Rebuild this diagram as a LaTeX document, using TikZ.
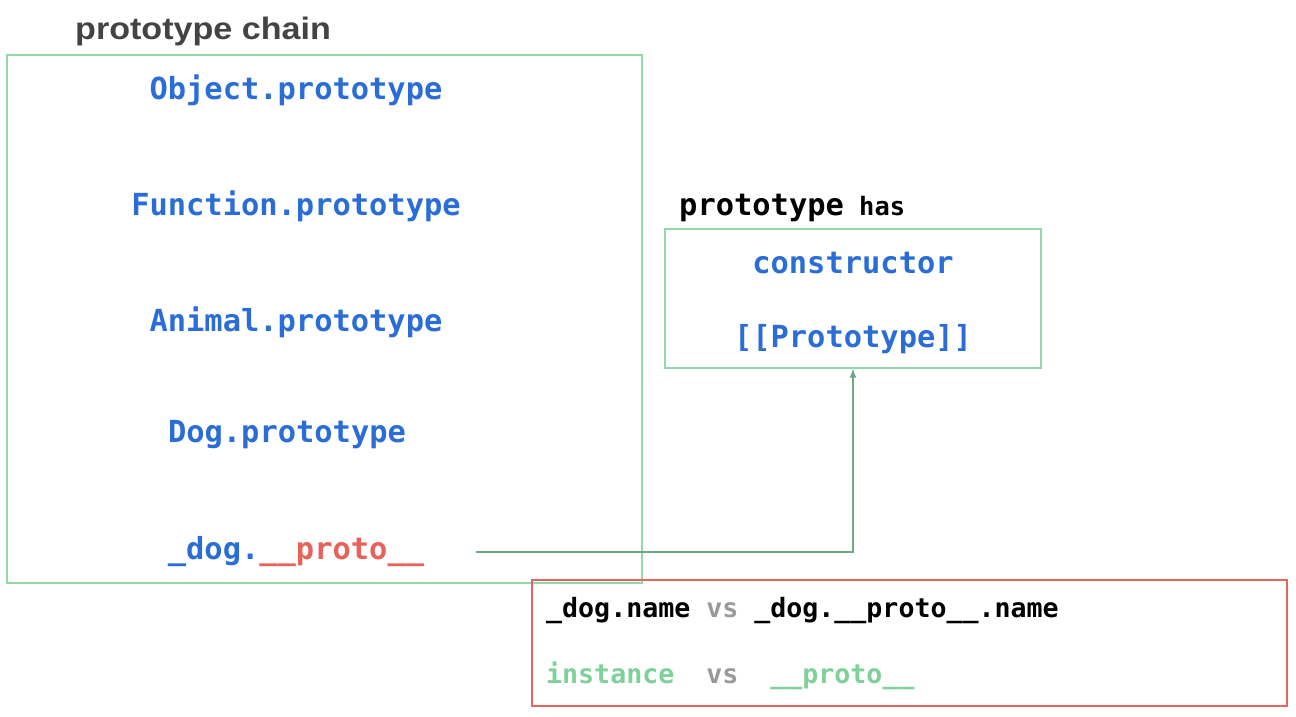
\documentclass[tikz,border=0pt]{standalone}
\usepackage{fontspec}
\setmainfont{Liberation Sans}
\newfontfamily\titlefont[FakeStretch=1.1]{Liberation Sans}
\newfontfamily\codefont{DejaVu Sans Mono}
\usetikzlibrary{arrows.meta}
\definecolor{codeblue}{HTML}{2A6DD6}
\definecolor{codered}{HTML}{E8625A}
\definecolor{boxgreen}{HTML}{93D8A8}
\definecolor{arrowgreen}{HTML}{6EA987}
\definecolor{txtgreen}{HTML}{7FD19A}
\definecolor{boxred}{HTML}{E8645E}
\definecolor{titlegray}{HTML}{434343}
\definecolor{vsgray}{HTML}{999999}
\tikzset{
  px/.style={x=1pt,y=-1pt},
  greenbox/.style={draw=boxgreen, line width=1.3pt, inner sep=0pt},
  redbox/.style={draw=boxred, line width=2.4pt, inner sep=0pt},
  bigcode/.style={font=\codefont\bfseries\fontsize{30.4}{34}\selectfont, inner sep=0pt, anchor=base, text=codeblue},
  smallcode/.style={font=\codefont\bfseries\fontsize{26.6}{30}\selectfont, inner sep=0pt, anchor=base west},
  arrowline/.style={draw=arrowgreen, line width=1.3pt, -{Latex[length=9pt,width=7pt]}},
}
\begin{document}
\begin{tikzpicture}[px]
\useasboundingbox (0,0) rectangle (1296,716);
% title
\node[font=\titlefont\bfseries\fontsize{31}{36}\selectfont, text=titlegray, inner sep=0pt, anchor=base west] (title) at (75,39) {prototype chain};
% chain box
\node[greenbox, minimum width=635pt, minimum height=528pt] (chain) at (324.5,319) {};
\node[bigcode] (obj) at (296,99) {Object.prototype};
\node[bigcode] (fun) at (296,215) {Function.prototype};
\node[bigcode] (ani) at (296,331) {Animal.prototype};
\node[bigcode] (dogp) at (287,442) {Dog.prototype};
\node[bigcode] (dogi) at (296,559) {\_dog.\textcolor{codered}{\_\_proto\_\_}};
% prototype has
\node[inner sep=0pt, anchor=base west] (haslabel) at (679,215)
  {\codefont\bfseries\fontsize{30.4}{34}\selectfont prototype\fontsize{25.4}{30}\selectfont\ has};
\node[greenbox, minimum width=376pt, minimum height=139pt] (protobox) at (853,298.5) {};
\node[bigcode] (ctor) at (853,273) {constructor};
\node[bigcode] (proto) at (853,347) {[[Prototype]]};
% arrow
\coordinate (start) at (476,552);
\draw[arrowline] (start) -| (protobox.south);
% red box
\node[redbox, minimum width=755pt, minimum height=126pt] (cmp) at (909.5,643) {};
\node[smallcode] (line1) at (546,617) {\_dog.name \textcolor{vsgray}{vs} \_dog.\_\_proto\_\_.name};
\node[smallcode] (line2) at (546,683) {\textcolor{txtgreen}{instance}~~\textcolor{vsgray}{vs}~~\textcolor{txtgreen}{\_\_proto\_\_}};
\end{tikzpicture}
\end{document}
